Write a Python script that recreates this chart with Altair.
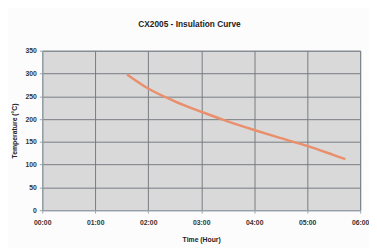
import altair as alt
import pandas as pd

hours = [1.6, 2.0, 2.5, 3.0, 3.5, 4.0, 4.5, 5.0, 5.5, 5.72]
temps = [298, 267, 239, 216, 195, 176, 158, 141, 121, 112]
x_ticks = [0, 1, 2, 3, 4, 5, 6]
y_ticks = [0, 50, 100, 150, 200, 250, 300, 350]

df = pd.DataFrame({"hour": hours, "temp": temps})

FONT = "Liberation Sans"
GRID = "#767b80"

chart = (
    alt.Chart(df)
    .mark_line(color="#ea8f6c", strokeWidth=2.5, interpolate="monotone")
    .encode(
        x=alt.X(
            "hour:Q",
            scale=alt.Scale(domain=[0, 6], nice=False, zero=False),
            axis=alt.Axis(
                values=x_ticks,
                labelExpr="'0' + datum.value + ':00'",
                labelFlush=False,
                labelOverlap=False,
                title="Time (Hour)",
                grid=True,
                gridColor=GRID,
                gridOpacity=1,
                domainColor="#9aa6ae",
                tickColor="#9aa6ae",
                tickSize=3,
                labelPadding=6,
                labelFont=FONT,
                labelFontSize=7,
                labelColor="#333333",
                labelFontWeight="bold",
                titleFont=FONT,
                titleFontSize=7,
                titleFontWeight="bold",
                titleColor="#222222",
                titlePadding=10,
            ),
        ),
        y=alt.Y(
            "temp:Q",
            scale=alt.Scale(domain=[0, 350], nice=False),
            axis=alt.Axis(
                values=y_ticks,
                title="Temperature (°C)",
                grid=True,
                gridColor=GRID,
                gridOpacity=1,
                domainColor="#9aa6ae",
                tickColor="#9aa6ae",
                tickSize=3,
                labelPadding=3,
                labelFont=FONT,
                labelFontSize=7,
                labelColor="#333333",
                labelFontWeight="bold",
                labelFlush=False,
                titleFont=FONT,
                titleFontSize=7,
                titleFontWeight="bold",
                titleColor="#222222",
                titlePadding=8,
            ),
        ),
    )
    .properties(
        width=325,
        height=163,
        autosize=alt.AutoSizeParams(type="none"),
        padding={"left": 35, "top": 41, "right": 9, "bottom": 36},
        background="#fdfcfc",
        title=alt.TitleParams(
            "CX2005 - Insulation Curve",
            font=FONT,
            fontSize=8.5,
            fontWeight="bold",
            color="#222222",
            anchor="middle",
            dx=-12,
            offset=19,
        ),
    )
    .configure_view(fill="#dad9da", stroke="#9aa6ae", strokeWidth=1)
)

chart.save("out.html", embed_options={"renderer": "svg", "actions": False})
